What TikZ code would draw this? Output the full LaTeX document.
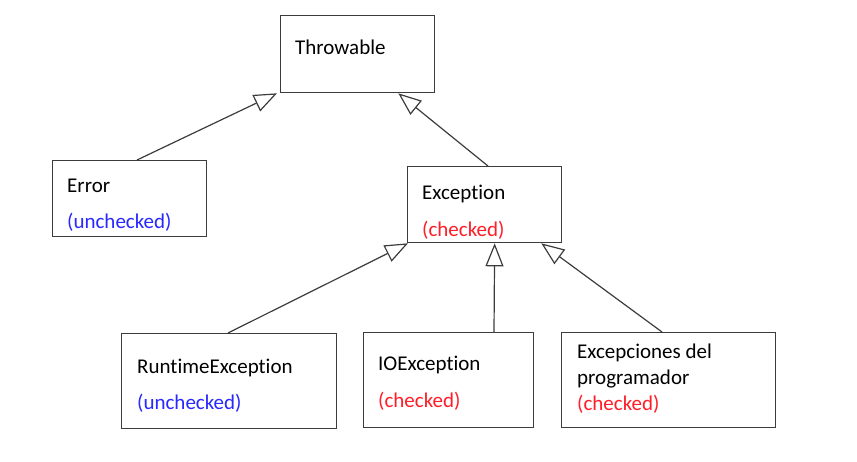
\documentclass[tikz,border=0pt]{standalone}
\usepackage{fontspec}
\setmainfont[Ligatures={NoCommon}]{Carlito}
\usetikzlibrary{arrows.meta}
\definecolor{chk}{RGB}{255,30,40}
\definecolor{unchk}{RGB}{40,40,255}
\definecolor{ln}{RGB}{60,60,60}
\tikzset{
  box/.style={draw=ln, line width=1.3pt, anchor=north west, inner sep=0pt, fill=white},
  lbl/.style={anchor=base west, inner sep=0pt, font=\fontsize{21}{25}\selectfont},
  inh/.style={draw=ln, line width=1.2pt, -{Triangle[open, length=23pt, width=18pt, line width=1.2pt]}},
}
\begin{document}
\begin{tikzpicture}[x=1pt,y=-1pt]
\useasboundingbox (0,0) rectangle (857,461);
% boxes
\node[box, minimum width=154pt, minimum height=77pt] (thr) at (280,15) {};
\node[box, minimum width=154pt, minimum height=76pt] (err) at (52,160) {};
\node[box, minimum width=154pt, minimum height=76pt] (exc) at (407,166) {};
\node[box, minimum width=215pt, minimum height=95pt] (rt) at (121,333) {};
\node[box, minimum width=170pt, minimum height=95pt] (io) at (363,332) {};
\node[box, minimum width=214pt, minimum height=95pt] (prog) at (561,332) {};
% texts
\node[lbl] (thrT) at (295,54) {Throwable};
\node[lbl] (errT) at (67,192) {Error};
\node[lbl, text=unchk] (errC) at (67,228) {(unchecked)};
\node[lbl] (excT) at (422,199) {Exception};
\node[lbl, text=chk] (excC) at (422,236) {(checked)};
\node[lbl] (rtT) at (137,373) {RuntimeException};
\node[lbl, text=unchk] (rtC) at (137,409) {(unchecked)};
\node[lbl] (ioT) at (378,370) {IOException};
\node[lbl, text=chk] (ioC) at (378,407) {(checked)};
\node[lbl] (progT1) at (577,358) {Excepciones del};
\node[lbl] (progT2) at (577,384) {programador};
\node[lbl, text=chk] (progC) at (577,410) {(checked)};
% connectors
\draw[inh] ([xshift=85pt]err.north west) -- ([xshift=-3pt]thr.south west);
\draw[inh] ([xshift=81pt]exc.north west) -- ([xshift=-37pt]thr.south east);
\draw[inh] ([xshift=107pt]rt.north west) -- ([xshift=1pt]exc.south west);
\draw[inh] ([xshift=131pt]io.north west) -- ([xshift=10pt]exc.south);
\draw[inh] ([xshift=101pt]prog.north west) -- ([xshift=-21pt]exc.south east);
\end{tikzpicture}
\end{document}
